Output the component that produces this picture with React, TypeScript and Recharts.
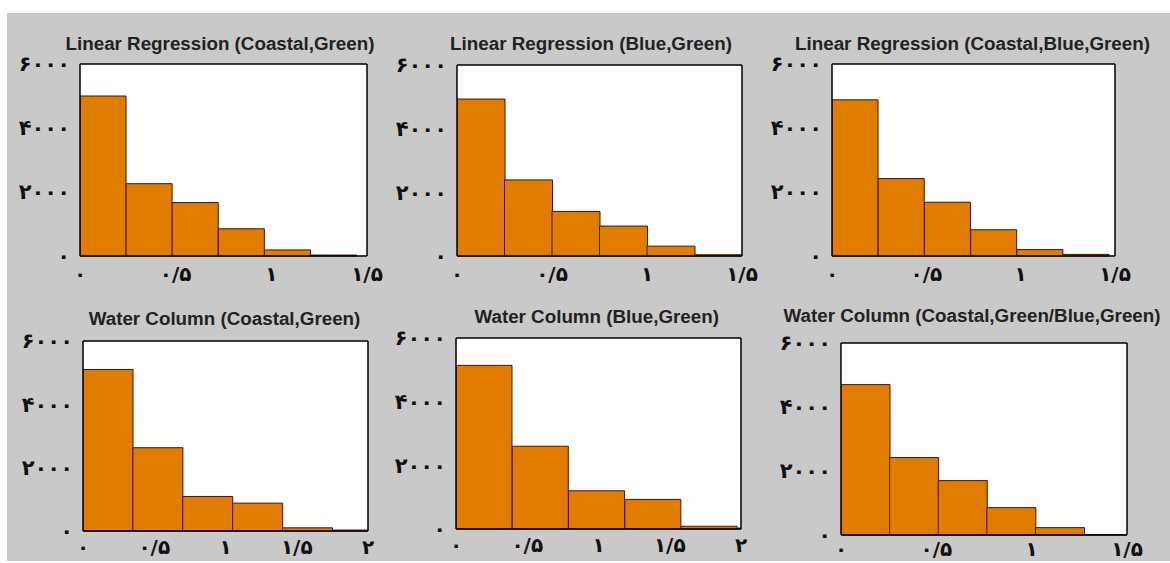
import React from 'react';
import { BarChart, Bar, XAxis, YAxis, CartesianGrid } from 'recharts';

// ---------- tick values & labels ----------
const xTickValues = [0, 0.5, 1, 1.5, 2];
const xTickLabels = ['۰', '۰/۵', '۱', '۱/۵', '۲'];
const yTickValues = [0, 2000, 4000, 6000];
const yTickLabels = ['۰', '۲۰۰۰', '۴۰۰۰', '۶۰۰۰'];

// ---------- titles ----------
const titles = [
  'Linear Regression (Coastal,Green)',
  'Linear Regression (Blue,Green)',
  'Linear Regression (Coastal,Blue,Green)',
  'Water Column (Coastal,Green)',
  'Water Column (Blue,Green)',
  'Water Column (Coastal,Green/Blue,Green)',
];

// ---------- histogram bin centres & counts ----------
const lrCoastalGreenBins = [0.1205, 0.3615, 0.6025, 0.8435, 1.0845, 1.3255];
const lrCoastalGreenCounts = [5000, 2260, 1670, 850, 190, 30];

const lrBlueGreenBins = [0.125, 0.375, 0.625, 0.875, 1.125, 1.375];
const lrBlueGreenCounts = [4930, 2390, 1400, 940, 310, 40];

const lrCoastalBlueGreenBins = [0.1225, 0.3675, 0.6125, 0.8575, 1.1025, 1.3475];
const lrCoastalBlueGreenCounts = [4880, 2420, 1680, 820, 200, 50];

const wcCoastalGreenBins = [0.175, 0.525, 0.875, 1.225, 1.575, 1.925];
const wcCoastalGreenCounts = [5100, 2630, 1090, 880, 100, 30];

const wcBlueGreenBins = [0.1975, 0.5925, 0.9875, 1.3825, 1.7775, 2.1725];
const wcBlueGreenCounts = [5140, 2600, 1200, 930, 85, 30];

const wcCombinedBins = [0.1275, 0.3825, 0.6375, 0.8925, 1.1475, 1.4025];
const wcCombinedCounts = [4700, 2420, 1700, 855, 230, 15];

// ---------- styles ----------
const GRAY = '#c9c9c9';
const BAR_FILL = '#e07d00';
const BAR_STROKE = '#4d1200';
const X_TICK_FONT = { fontFamily: 'DejaVu Sans', fontWeight: 700, fontSize: 20, fill: '#111' };
const Y_TICK_FONT = { fontFamily: 'DejaVu Sans', fontWeight: 700, fontSize: 21, fill: '#111', letterSpacing: -1.5 };

// ---------- panel layout ----------
const panels = [
  { title: titles[0], bins: lrCoastalGreenBins, counts: lrCoastalGreenCounts, xMax: 1.5, left: 80, top: 64, right: 367, bottom: 256, tx: 220, ty: 49.5, gap: 7 },
  { title: titles[1], bins: lrBlueGreenBins, counts: lrBlueGreenCounts, xMax: 1.5, left: 457, top: 65, right: 742, bottom: 256, tx: 591, ty: 50, gap: 7 },
  { title: titles[2], bins: lrCoastalBlueGreenBins, counts: lrCoastalBlueGreenCounts, xMax: 1.5, left: 832, top: 64, right: 1115, bottom: 256, tx: 972.5, ty: 50, gap: 7 },
  { title: titles[3], bins: wcCoastalGreenBins, counts: wcCoastalGreenCounts, xMax: 2, left: 83, top: 341, right: 368, bottom: 531, tx: 224.5, ty: 325, gap: 5 },
  { title: titles[4], bins: wcBlueGreenBins, counts: wcBlueGreenCounts, xMax: 2, left: 456, top: 338, right: 741, bottom: 529, tx: 596.7, ty: 323.3, gap: 5 },
  { title: titles[5], bins: wcCombinedBins, counts: wcCombinedCounts, xMax: 1.5, left: 841, top: 343, right: 1127, bottom: 535, tx: 972, ty: 321.7, gap: 3 },
];

const fmtX = (v: number) => {
  const i = xTickValues.findIndex((t) => Math.abs(t - v) < 1e-9);
  return i >= 0 ? xTickLabels[i] : '';
};
const fmtY = (v: number) => {
  const i = yTickValues.findIndex((t) => Math.abs(t - v) < 1e-9);
  return i >= 0 ? yTickLabels[i] : '';
};

const ML = 75;
const MT = 25;
const MR = 20;
const MB = 34;

function Panel({ p }: { p: any }) {
  const data = p.bins.map((x: number, i: number) => ({ x, count: p.counts[i] }));
  const ticks = xTickValues.filter((v) => v <= p.xMax + 1e-9);
  const w = p.right - p.left + ML + MR;
  const h = p.bottom - p.top + MT + MB;
  const axisLine = { stroke: '#000', strokeWidth: 1.5 };
  return (
    <div style={{ position: 'absolute', left: p.left - ML, top: p.top - MT }}>
      <BarChart
        width={w}
        height={h}
        data={data}
        margin={{ top: MT, right: MR, left: ML - 60, bottom: MB - 32 }}
        barCategoryGap={0}
        barGap={0}
      >
        <CartesianGrid xAxisId="b" yAxisId="l" fill="#fff" horizontal={false} vertical={false} />
        <XAxis
          xAxisId="b"
          dataKey="x"
          type="number"
          domain={[0, p.xMax]}
          allowDataOverflow
          ticks={ticks}
          interval={0}
          tickFormatter={fmtX}
          tickLine={false}
          axisLine={axisLine}
          tick={X_TICK_FONT}
          height={32}
          tickSize={4}
          tickMargin={p.gap}
        />
        <XAxis
          xAxisId="t"
          orientation="top"
          type="number"
          domain={[0, p.xMax]}
          allowDataOverflow
          ticks={ticks}
          interval={0}
          mirror
          tick={false}
          tickSize={4}
          tickLine={{ stroke: '#000', strokeWidth: 1 }}
          axisLine={axisLine}
          height={1}
        />
        <YAxis
          yAxisId="l"
          type="number"
          domain={[0, 6000]}
          ticks={yTickValues}
          interval={0}
          tickFormatter={fmtY}
          tickLine={false}
          axisLine={axisLine}
          tick={Y_TICK_FONT}
          width={60}
          tickSize={4}
          tickMargin={6}
        />
        <YAxis
          yAxisId="r"
          orientation="right"
          type="number"
          domain={[0, 6000]}
          ticks={yTickValues}
          interval={0}
          mirror
          tick={false}
          tickSize={4}
          tickLine={{ stroke: '#000', strokeWidth: 1 }}
          axisLine={axisLine}
          width={1}
        />
        <Bar
          xAxisId="b"
          yAxisId="l"
          dataKey="count"
          fill={BAR_FILL}
          stroke={BAR_STROKE}
          strokeWidth={1}
          isAnimationActive={false}
        />
      </BarChart>
    </div>
  );
}

export default function App() {
  return (
    <div style={{ position: 'absolute', left: 0, top: 0, width: 1170, height: 563, background: '#fff', overflow: 'hidden' }}>
      <div style={{ position: 'absolute', left: 7, top: 13, width: 1163, height: 548, background: GRAY }} />
      {panels.map((p, i) => (
        <Panel key={i} p={p} />
      ))}
      <svg width={1170} height={563} style={{ position: 'absolute', left: 0, top: 0, pointerEvents: 'none' }}>
        {panels.map((p, i) => (
          <text
            key={i}
            x={p.tx}
            y={p.ty}
            textAnchor="middle"
            fontFamily="'Liberation Sans', Arial, sans-serif"
            fontWeight={700}
            fontSize={18.8}
            fill="#222"
          >
            {p.title}
          </text>
        ))}
      </svg>
    </div>
  );
}
